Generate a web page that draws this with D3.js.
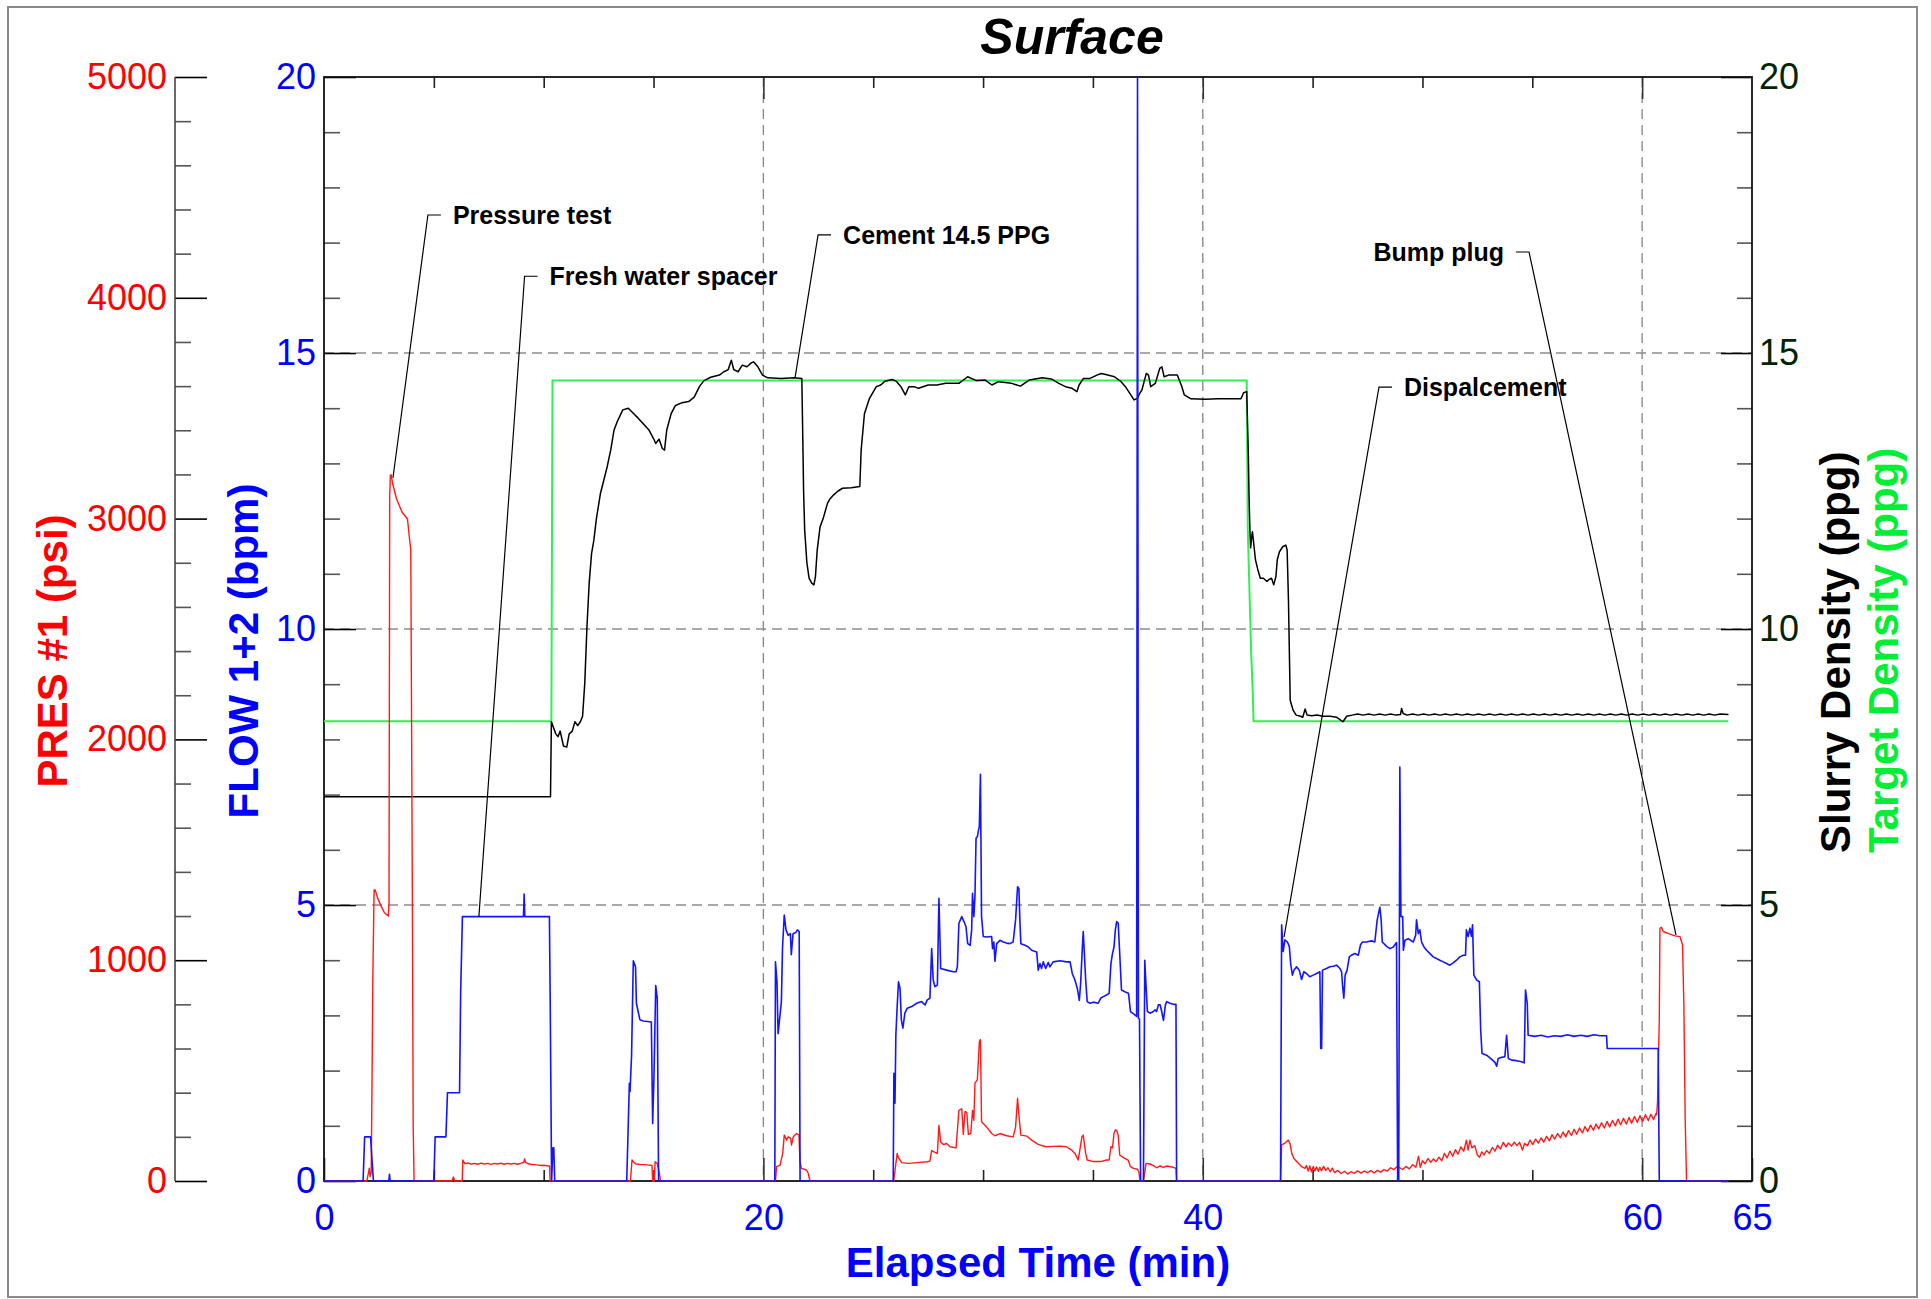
<!DOCTYPE html>
<html><head><meta charset="utf-8">
<script src="https://cdn.jsdelivr.net/npm/d3@7"></script>
<style>
html,body{margin:0;padding:0;background:#fff;}
svg{display:block;font-family:"Liberation Sans",Arial,Helvetica,sans-serif;}
</style></head><body>
<svg id="chart" width="1931" height="1299"></svg>
<script>
// ---------------- data (time in min) ----------------
const timeTicks = [0, 20, 40, 60, 65];
const timeMinorTicks = [5, 10, 15, 25, 30, 35, 45, 50, 55];
const presTicks = [0, 1000, 2000, 3000, 4000, 5000];
const flowTicks = [0, 5, 10, 15, 20];
const densTicks = [0, 5, 10, 15, 20];
const gridTimes = [20, 40, 60];
const gridLevels = [5, 10, 15];

// FLOW 1+2 (bpm)
const flowData = [
[0,0],[1.78,0],[1.85,0.8],[2.12,0.8],[2.2,0.3],[2.25,0],[2.95,0],[2.98,0.12],[3.01,0],
[5.0,0],[5.06,0.8],[5.55,0.8],[5.62,1.6],[6.17,1.6],[6.22,3.4],[6.3,4.79],[9.08,4.79],[9.11,5.2],[9.14,4.79],
[10.26,4.79],[10.3,3.1],[10.36,0],[10.42,0.6],[10.46,0.6],[10.5,0],
[13.78,0],[13.9,1.77],[13.93,1.62],[14.0,2.28],[14.08,3.99],[14.18,3.88],[14.22,3.22],[14.38,2.92],[14.53,2.9],
[14.9,2.88],[14.96,1.04],[15.02,1.9],[15.1,3.54],[15.17,3.31],[15.23,0],
[20.52,0],[20.55,3.97],[20.62,3.6],[20.67,2.67],[20.75,2.98],[20.82,3.25],[20.87,4.22],[20.95,4.82],[21.03,4.55],
[21.13,4.45],[21.23,4.48],[21.27,4.1],[21.35,4.48],[21.47,4.5],[21.55,4.55],[21.63,4.52],[21.67,0],
[25.91,0],[25.94,1.95],[25.99,1.41],[26.03,2.65],[26.09,3.16],[26.15,3.61],[26.22,3.49],[26.28,2.92],[26.35,2.77],
[26.44,3.04],[26.55,3.13],[26.75,3.16],[26.98,3.22],[27.2,3.25],[27.36,3.19],[27.46,3.28],[27.58,3.31],[27.66,4.21],
[27.73,3.64],[27.81,3.52],[27.92,3.55],[27.99,5.12],[28.07,3.85],[28.34,3.82],[28.65,3.79],[28.77,3.79],[28.83,3.88],
[28.9,4.67],[29.03,4.79],[29.13,4.7],[29.22,4.61],[29.3,4.3],[29.41,4.27],[29.48,4.55],[29.52,5.21],[29.58,4.79],
[29.63,5.15],[29.68,6.21],[29.74,6.24],[29.78,6.33],[29.83,6.42],[29.88,7.37],[29.93,4.79],[30.01,4.43],[30.16,4.42],
[30.39,4.43],[30.43,4.21],[30.49,4.33],[30.54,3.98],[30.62,4.3],[30.77,4.36],[30.92,4.33],[31.07,4.31],[31.22,4.3],
[31.37,4.33],[31.48,4.73],[31.57,5.33],[31.63,5.3],[31.68,4.67],[31.72,4.3],[31.91,4.27],[32.06,4.24],[32.21,4.18],
[32.44,4.15],[32.51,3.82],[32.59,3.94],[32.66,3.85],[32.74,3.97],[32.85,3.85],[32.97,3.96],[33.04,3.88],[33.19,3.97],
[33.5,3.99],[33.8,3.97],[33.96,3.97],[34.06,3.76],[34.18,3.64],[34.29,3.49],[34.38,3.27],[34.44,3.57],[34.52,4.24],
[34.56,4.52],[34.61,4.12],[34.67,3.64],[34.74,3.25],[34.87,3.22],[35.02,3.24],[35.24,3.22],[35.35,3.31],[35.47,3.34],
[35.62,3.37],[35.74,3.40],[35.82,3.94],[35.89,4.12],[35.96,4.24],[36.02,4.55],[36.08,4.70],[36.15,4.67],[36.22,4.12],
[36.3,3.46],[36.45,3.43],[36.62,3.40],[36.71,3.07],[36.8,3.04],[36.91,3.01],[36.99,2.98],[37.03,20],[37.07,2.95],
[37.12,2.93],[37.17,0],[37.3,0],[37.36,4.0],[37.42,3.52],[37.48,3.07],[37.6,3.04],[37.75,3.07],[37.83,3.1],[37.9,3.07],
[37.98,3.19],[38.06,3.19],[38.13,3.07],[38.21,2.91],[38.3,3.19],[38.36,3.25],[38.51,3.22],[38.66,3.2],[38.78,3.2],[38.81,0],
[43.54,0],[43.59,4.64],[43.66,4.16],[43.74,4.37],[43.85,4.33],[43.94,4.25],[44.0,3.94],[44.08,3.73],[44.15,3.82],
[44.27,3.88],[44.39,3.82],[44.5,3.65],[44.6,3.79],[44.72,3.76],[44.87,3.7],[45.03,3.73],[45.18,3.76],[45.33,3.79],
[45.37,2.40],[45.41,2.40],[45.45,3.82],[45.63,3.85],[45.79,3.88],[45.94,3.89],[46.09,3.91],[46.17,3.88],[46.24,3.85],
[46.32,3.79],[46.36,3.55],[46.42,3.31],[46.48,3.73],[46.57,3.82],[46.67,4.06],[46.77,4.09],[46.92,4.12],[47.08,4.09],
[47.18,4.28],[47.27,4.33],[47.45,4.33],[47.68,4.35],[47.83,4.33],[47.94,4.73],[48.06,4.96],[48.12,4.73],[48.17,4.33],
[48.37,4.25],[48.52,4.21],[48.67,4.24],[48.82,4.32],[48.87,0],[48.92,0],[48.97,7.5],[49.02,4.79],[49.1,4.79],
[49.13,4.18],[49.2,4.36],[49.35,4.39],[49.58,4.33],[49.69,4.45],[49.73,4.73],[49.81,4.48],[49.88,4.55],[49.96,4.33],
[50.07,4.24],[50.19,4.18],[50.34,4.12],[50.49,4.06],[50.64,4.03],[50.79,4.0],[50.95,3.97],[51.1,3.94],[51.25,3.91],
[51.4,3.95],[51.55,4.0],[51.7,4.06],[51.86,4.09],[51.96,4.09],[52.0,4.55],[52.08,4.43],[52.16,4.58],[52.23,4.43],
[52.28,4.64],[52.34,3.73],[52.47,3.64],[52.59,3.61],[52.65,2.74],[52.71,2.31],[52.92,2.28],[53.19,2.19],[53.3,2.15],
[53.38,2.08],[53.45,2.22],[53.6,2.24],[53.75,2.25],[53.83,2.64],[53.91,2.22],[54.06,2.19],[54.28,2.18],[54.51,2.16],
[54.63,2.14],[54.69,3.46],[54.77,3.22],[54.81,2.64],[55.1,2.62],[55.4,2.64],[55.7,2.61],[56.0,2.63],[56.3,2.62],
[56.6,2.65],[56.9,2.62],[57.2,2.64],[57.5,2.62],[57.8,2.65],[58.1,2.63],[58.38,2.63],[58.41,2.40],[60.73,2.40],
[60.78,0],[63.92,0]
];

// PRES #1 (psi)
const presData = [
[0,0],[1.95,0],[2.03,40],[2.06,58],[2.1,20],[2.15,40],[2.19,500],[2.22,900],[2.28,1318],[2.33,1318],[2.45,1280],
[2.6,1245],[2.75,1215],[2.93,1200],[2.96,1260],[2.99,3100],[3.02,3198],[3.06,3198],[3.12,3160],[3.3,3090],[3.55,3030],
[3.8,2998],[3.88,2920],[3.95,2860],[3.99,2000],[4.02,1340],[4.06,245],[4.1,0],
[5.82,0],[5.89,18],[5.95,0],[6.29,0],[6.32,95],[6.42,78],[6.55,82],[6.7,76],[6.85,80],[7.0,76],[7.15,81],[7.3,77],
[7.45,80],[7.6,75],[7.75,80],[7.9,77],[8.05,81],[8.2,76],[8.35,80],[8.5,77],[8.65,80],[8.8,76],[8.95,80],[9.1,85],
[9.13,100],[9.18,84],[9.3,78],[9.45,75],[9.6,74],[9.75,72],[9.9,70],[10.05,71],[10.2,68],[10.27,68],[10.29,0],
[13.95,0],[14.02,95],[14.1,85],[14.2,77],[14.4,75],[14.6,74],[14.8,72],[14.93,70],[14.96,0],[15.04,0],[15.07,87],
[15.17,80],[15.26,38],[15.32,0],
[20.55,0],[20.6,65],[20.76,72],[20.88,125],[20.95,208],[21.06,185],[21.13,200],[21.24,193],[21.28,163],[21.36,200],
[21.51,215],[21.62,208],[21.66,95],[21.73,57],[21.96,50],[22.04,35],[22.12,0],
[25.93,0],[26.09,125],[26.15,105],[26.3,83],[26.6,80],[27.0,83],[27.45,87],[27.58,90],[27.66,138],[27.81,130],
[27.92,125],[27.99,252],[28.07,177],[28.19,165],[28.34,170],[28.5,155],[28.77,150],[28.9,320],[29.03,327],[29.1,211],
[29.18,315],[29.26,310],[29.33,211],[29.44,215],[29.52,320],[29.58,275],[29.63,443],[29.74,458],[29.83,631],[29.88,640],
[29.93,268],[30.16,245],[30.39,215],[30.54,205],[30.77,215],[31.07,205],[31.37,200],[31.48,245],[31.57,375],[31.63,300],
[31.72,208],[32.0,203],[32.21,185],[32.51,166],[32.85,155],[33.2,157],[33.5,158],[33.8,155],[34.03,140],[34.18,125],
[34.33,95],[34.38,125],[34.5,200],[34.56,208],[34.67,125],[34.74,95],[35.02,88],[35.35,88],[35.62,95],[35.74,95],
[35.82,155],[35.89,150],[35.96,215],[36.02,231],[36.08,230],[36.15,208],[36.22,118],[36.37,107],[36.6,95],[36.71,65],
[36.85,57],[37.03,53],[37.09,42],[37.15,0],[37.3,0],[37.42,80],[37.6,77],[37.75,70],[37.9,60],[38.06,68],[38.21,62],
[38.36,68],[38.66,62],[38.78,57],[38.81,0],
[43.54,0],[43.59,164],[43.74,172],[43.89,185],[43.97,170],[44.05,125],[44.15,102],[44.35,80],[44.5,65],[44.65,57],
[44.72,70],[44.8,45],[44.87,68],[44.95,42],[45.03,66],[45.1,45],[45.18,64],[45.26,44],[45.33,62],[45.4,46],[45.5,66],
[45.6,48],[45.7,60],[45.8,42],[45.9,58],[46.0,38],[46.15,48],[46.3,34],[46.45,44],[46.6,32],[46.75,42],[46.9,35],
[47.05,46],[47.2,36],[47.35,45],[47.5,38],[47.65,47],[47.8,37],[47.95,48],[48.1,40],[48.25,52],[48.4,45],[48.55,60],
[48.7,52],[48.85,66],[48.97,60],[49.1,52],[49.25,66],[49.4,55],[49.55,74],[49.7,62],[49.82,112],[49.9,62],[50.0,92],
[50.12,78],[50.25,102],[50.38,85],[50.5,100],[50.62,88],[50.75,108],[50.88,92],[51.0,125],[51.12,105],[51.25,135],
[51.38,112],[51.5,142],[51.62,122],[51.75,155],[51.88,135],[52.0,185],[52.08,140],[52.16,185],[52.25,150],[52.38,160],
[52.5,118],[52.6,108],[52.7,132],[52.8,118],[52.92,138],[53.05,125],[53.18,152],[53.3,135],[53.42,162],[53.55,145],
[53.68,175],[53.8,155],[53.92,172],[54.05,158],[54.18,176],[54.3,160],[54.42,175],[54.55,140],[54.65,170],[54.78,160],
[54.9,185],[55.02,165],[55.15,190],[55.28,172],[55.4,195],[55.52,176],[55.65,202],[55.78,182],[55.9,210],[56.02,190],
[56.15,215],[56.28,196],[56.4,222],[56.52,200],[56.65,228],[56.78,206],[56.9,234],[57.02,212],[57.15,240],[57.28,218],
[57.4,247],[57.52,224],[57.65,253],[57.78,230],[57.9,258],[58.02,236],[58.15,264],[58.28,240],[58.4,270],[58.52,245],
[58.65,274],[58.78,250],[58.9,280],[59.02,255],[59.15,284],[59.28,258],[59.4,288],[59.52,262],[59.65,292],[59.78,266],
[59.9,296],[60.02,270],[60.15,300],[60.28,274],[60.4,302],[60.52,278],[60.62,305],[60.66,300],
[60.7,360],[60.74,548],[60.78,729],[60.81,1144],[60.88,1149],
[60.96,1130],[61.2,1120],[61.5,1110],[61.72,1107],[61.84,1069],[61.9,790],[61.96,276],[62.02,0],[63.92,0]
];

// Slurry Density (ppg)
const densData = [
[0,6.96],[10.31,6.96],[10.35,8.32],[10.55,8.1],[10.65,8.05],[10.75,8.15],[10.9,7.88],[11.05,7.86],[11.16,8.1],
[11.3,8.15],[11.42,8.32],[11.55,8.25],[11.67,8.32],[11.77,8.42],[11.87,9.02],[11.97,10.04],[12.07,10.83],[12.18,11.37],
[12.28,11.6],[12.4,12.0],[12.58,12.45],[12.89,12.94],[13.05,13.24],[13.2,13.6],[13.35,13.76],[13.6,13.97],[13.85,14.0],
[14.1,13.9],[14.3,13.82],[14.5,13.73],[14.8,13.6],[15.0,13.45],[15.1,13.36],[15.25,13.44],[15.4,13.27],[15.5,13.24],
[15.6,13.6],[15.8,13.9],[16.0,14.05],[16.3,14.1],[16.6,14.12],[16.85,14.2],[17.1,14.4],[17.3,14.5],[17.6,14.56],
[18.0,14.6],[18.2,14.66],[18.4,14.7],[18.54,14.87],[18.65,14.7],[18.85,14.66],[19.04,14.78],[19.25,14.75],[19.45,14.82],
[19.55,14.84],[19.75,14.75],[19.96,14.6],[20.2,14.55],[20.8,14.54],[21.4,14.55],[21.75,14.54],[21.8,13.3],[21.83,12.5],
[21.88,11.79],[21.98,11.2],[22.08,10.92],[22.2,10.83],[22.3,10.8],[22.37,10.95],[22.45,11.43],[22.58,11.85],[22.72,12.0],
[22.92,12.28],[23.02,12.35],[23.2,12.43],[23.4,12.5],[23.6,12.55],[24.0,12.56],[24.39,12.58],[24.45,13.24],[24.6,13.9],
[24.83,14.18],[25.14,14.39],[25.34,14.42],[25.54,14.49],[25.85,14.52],[26.05,14.49],[26.26,14.39],[26.46,14.24],
[26.62,14.39],[26.86,14.39],[27.06,14.36],[27.5,14.42],[27.9,14.42],[28.3,14.45],[28.9,14.45],[29.3,14.57],[29.7,14.5],
[30.1,14.51],[30.4,14.42],[30.7,14.48],[31.3,14.45],[31.7,14.4],[32.1,14.51],[32.7,14.55],[33.1,14.53],[33.45,14.45],
[33.75,14.39],[34.05,14.36],[34.27,14.3],[34.37,14.42],[34.57,14.54],[34.87,14.54],[35.18,14.6],[35.38,14.63],
[35.68,14.6],[35.98,14.57],[36.28,14.48],[36.48,14.39],[36.68,14.27],[36.87,14.15],[37.03,14.18],[37.13,14.27],
[37.23,14.33],[37.43,14.63],[37.53,14.6],[37.63,14.39],[37.84,14.45],[38.04,14.72],[38.14,14.75],[38.24,14.57],
[38.44,14.6],[38.84,14.6],[39.05,14.39],[39.16,14.24],[39.46,14.17],[40.1,14.16],[40.7,14.17],[41.3,14.17],[41.74,14.17],
[41.86,14.28],[42.0,14.3],[42.07,13.24],[42.11,12.34],[42.15,11.74],[42.18,11.47],[42.22,11.65],[42.26,11.76],
[42.3,11.62],[42.4,11.25],[42.51,11.07],[42.62,10.92],[42.76,10.92],[42.92,10.86],[43.02,10.9],[43.13,10.92],
[43.23,10.8],[43.33,10.95],[43.39,11.25],[43.49,11.4],[43.64,11.49],[43.78,11.52],[43.84,11.43],[43.9,10.53],
[43.94,9.62],[43.98,8.71],[44.11,8.53],[44.25,8.44],[44.45,8.42],[44.55,8.4],[44.66,8.55],[44.75,8.44],[44.96,8.43],
[45.2,8.44],[45.47,8.42],[45.8,8.42],[46.1,8.4],[46.38,8.32],[46.55,8.42],[46.8,8.44],[47.05,8.46],[47.3,8.44],
[47.55,8.46],[47.8,8.44],[48.05,8.46],[48.3,8.44],[48.55,8.46],[48.8,8.44],[49.0,8.45],[49.05,8.56],[49.12,8.47],
[49.3,8.44],[49.55,8.46],[49.8,8.44],[50.05,8.46],[50.3,8.44],[50.55,8.46],[50.8,8.44],[51.05,8.46],[51.3,8.44],
[51.55,8.46],[51.8,8.44],[52.05,8.46],[52.3,8.44],[52.55,8.46],[52.8,8.44],[53.05,8.46],[53.3,8.44],[53.55,8.46],
[53.8,8.44],[54.05,8.46],[54.3,8.44],[54.55,8.46],[54.8,8.44],[55.05,8.46],[55.3,8.44],[55.55,8.46],[55.8,8.44],
[56.05,8.46],[56.3,8.44],[56.55,8.46],[56.8,8.44],[57.05,8.46],[57.3,8.44],[57.55,8.46],[57.8,8.44],[58.05,8.46],
[58.3,8.44],[58.55,8.46],[58.8,8.44],[59.05,8.46],[59.3,8.44],[59.55,8.46],[59.8,8.44],[60.05,8.46],[60.3,8.44],
[60.55,8.46],[60.8,8.44],[61.05,8.46],[61.3,8.44],[61.55,8.46],[61.8,8.44],[62.05,8.46],[62.3,8.44],[62.55,8.46],
[62.8,8.44],[63.05,8.46],[63.3,8.44],[63.55,8.46],[63.93,8.45]
];

// Target Density (ppg)
const targetData = [
[0,8.33],[10.35,8.33],[10.4,14.5],[42.0,14.5],[42.05,11.8],[42.2,9.6],[42.28,8.8],[42.31,8.33],[63.92,8.33]
];

// callouts: text, pointed value (time, value, series axis), elbow (time, level on 0-20 scale)
const calloutLabels = ["Pressure test", "Fresh water spacer", "Cement 14.5 PPG", "Dispalcement", "Bump plug"];
const calloutPoint = [[3.14, 3185, "pres"], [7.05, 4.79, "flow"], [21.44, 14.55, "dens"], [43.7, 4.42, "flow"], [61.54, 1115, "pres"]];
const calloutElbow = [[4.73, 17.5], [9.13, 16.39], [22.49, 17.14], [48.02, 14.38], [54.85, 16.83]];
const calloutSide = ["right", "right", "right", "right", "left"];

// ---------------- drawing ----------------
const svg = d3.select("#chart");
const L = 324, R = 1752, T = 77, B = 1181, PX = 175;
const FONT = '"Liberation Sans", Arial, Helvetica, sans-serif';
const RED = "#ff0000", BLUE = "#0000ff", GREEN = "#00ee33", DKG = "#002400";

const x = d3.scaleLinear().domain([0, 65]).range([L, R]);
const yFlow = d3.scaleLinear().domain([0, 20]).range([B, T]);
const yPres = d3.scaleLinear().domain([0, 5000]).range([B, T]);
const yDens = d3.scaleLinear().domain([0, 20]).range([B, T]);
const scales = {flow: yFlow, pres: yPres, dens: yDens};

svg.append("rect").attr("width", 1931).attr("height", 1299).attr("fill", "#fff");
svg.append("rect").attr("x", 8).attr("y", 7).attr("width", 1909).attr("height", 1290)
  .attr("fill", "none").attr("stroke", "#8a8a8a").attr("stroke-width", 2);

// title
svg.append("text").attr("x", 1072).attr("y", 54).attr("text-anchor", "middle")
  .attr("font-family", FONT).attr("font-size", 50).attr("font-weight", "bold").attr("font-style", "italic")
  .attr("fill", "#000").text("Surface");

// gridlines
const grid = svg.append("g").attr("stroke", "#8c8c8c").attr("stroke-width", 1.4).attr("stroke-dasharray", "10,6");
grid.selectAll("line.v").data(gridTimes).join("line").attr("class", "v")
  .attr("x1", d => x(d)).attr("x2", d => x(d)).attr("y1", T).attr("y2", B);
grid.selectAll("line.h").data(gridLevels).join("line").attr("class", "h")
  .attr("x1", L).attr("x2", R).attr("y1", d => yFlow(d)).attr("y2", d => yFlow(d));

function styleAxis(g, color, size) {
  g.attr("font-family", FONT).attr("font-size", size);
  g.selectAll("text").attr("fill", color);
  g.select(".domain").remove();
}

// PRES axis
const presMinor = d3.range(0, 5001, 200).filter(v => v % 1000 !== 0);
svg.append("g").attr("transform", `translate(${PX},0)`)
  .call(d3.axisLeft(yPres).tickValues(presMinor).tickSizeInner(-16).tickSizeOuter(0).tickFormat(""))
  .call(g => { g.select(".domain").remove(); g.selectAll("line").attr("stroke", "#555").attr("stroke-width", 1.6); });
svg.append("g").attr("transform", `translate(${PX},0)`)
  .call(d3.axisLeft(yPres).tickValues(presTicks).tickSizeInner(-32).tickSizeOuter(0).tickPadding(8).tickFormat(d3.format("d")))
  .call(g => { styleAxis(g, RED, 36); g.selectAll("line").attr("stroke", "#000").attr("stroke-width", 1.6); });
svg.append("line").attr("x1", PX).attr("x2", PX).attr("y1", T).attr("y2", B).attr("stroke", "#444").attr("stroke-width", 1.6);

// FLOW axis (left of plot)
const unitMinor = d3.range(0, 21, 1).filter(v => v % 5 !== 0);
svg.append("g").attr("transform", `translate(${L},0)`)
  .call(d3.axisLeft(yFlow).tickValues(unitMinor).tickSizeInner(-16).tickSizeOuter(0).tickFormat(""))
  .call(g => { g.select(".domain").remove(); g.selectAll("line").attr("stroke", "#555").attr("stroke-width", 1.6); });
svg.append("g").attr("transform", `translate(${L},0)`)
  .call(d3.axisLeft(yFlow).tickValues(flowTicks).tickSizeInner(-32).tickSizeOuter(0).tickPadding(8))
  .call(g => { styleAxis(g, BLUE, 36); g.selectAll("line").attr("stroke", "#000").attr("stroke-width", 1.6); });

// Density axis (right)
svg.append("g").attr("transform", `translate(${R},0)`)
  .call(d3.axisRight(yDens).tickValues(unitMinor).tickSizeInner(-15).tickSizeOuter(0).tickFormat(""))
  .call(g => { g.select(".domain").remove(); g.selectAll("line").attr("stroke", "#555").attr("stroke-width", 1.6); });
svg.append("g").attr("transform", `translate(${R},0)`)
  .call(d3.axisRight(yDens).tickValues(densTicks).tickSizeInner(-31).tickSizeOuter(0).tickPadding(7))
  .call(g => { styleAxis(g, DKG, 36); g.selectAll("line").attr("stroke", "#000").attr("stroke-width", 1.6); });

// time axes (bottom with labels, top ticks only)
svg.append("g").attr("transform", `translate(0,${B})`)
  .call(d3.axisBottom(x).tickValues(timeMinorTicks).tickSizeInner(-11).tickSizeOuter(0).tickFormat(""))
  .call(g => { g.select(".domain").remove(); g.selectAll("line").attr("stroke", "#222").attr("stroke-width", 1.6); });
svg.append("g").attr("transform", `translate(0,${B})`)
  .call(d3.axisBottom(x).tickValues(timeTicks).tickSizeInner(-23).tickSizeOuter(0).tickPadding(23))
  .call(g => { styleAxis(g, BLUE, 36); g.selectAll("line").attr("stroke", "#333").attr("stroke-width", 1.6); });
svg.append("g").attr("transform", `translate(0,${T})`)
  .call(d3.axisTop(x).tickValues(timeMinorTicks).tickSizeInner(-11).tickSizeOuter(0).tickFormat(""))
  .call(g => { g.select(".domain").remove(); g.selectAll("line").attr("stroke", "#222").attr("stroke-width", 1.6); });
svg.append("g").attr("transform", `translate(0,${T})`)
  .call(d3.axisTop(x).tickValues(gridTimes).tickSizeInner(-22).tickSizeOuter(0).tickFormat(""))
  .call(g => { g.select(".domain").remove(); g.selectAll("line").attr("stroke", "#333").attr("stroke-width", 1.6); });

// plot frame
svg.append("rect").attr("x", L).attr("y", T).attr("width", R - L).attr("height", B - T)
  .attr("fill", "none").attr("stroke", "#111").attr("stroke-width", 1.8);

// series
const lineOf = ys => d3.line().x(d => x(d[0])).y(d => ys(d[1]));
svg.append("path").datum(targetData).attr("d", lineOf(yDens))
  .attr("fill", "none").attr("stroke", "#33ee55").attr("stroke-width", 2);
svg.append("path").datum(densData).attr("d", lineOf(yDens))
  .attr("fill", "none").attr("stroke", "#000").attr("stroke-width", 1.5).attr("stroke-linejoin", "round");
svg.append("path").datum(presData).attr("d", lineOf(yPres))
  .attr("fill", "none").attr("stroke", "#ff1a1a").attr("stroke-width", 1.4).attr("stroke-linejoin", "round");
svg.append("path").datum(flowData).attr("d", lineOf(yFlow))
  .attr("fill", "none").attr("stroke", "#1414ff").attr("stroke-width", 1.6).attr("stroke-linejoin", "round");

// callouts
const ann = svg.append("g");
calloutLabels.forEach((label, i) => {
  const [pt, pv, axis] = calloutPoint[i];
  const px = x(pt), py = scales[axis](pv);
  const cx = x(calloutElbow[i][0]), cy = yFlow(calloutElbow[i][1]);
  const dir = calloutSide[i] === "right" ? 1 : -1;
  ann.append("path").attr("d", `M${px},${py}L${cx},${cy}L${cx + dir * 13},${cy}`)
    .attr("fill", "none").attr("stroke", "#000").attr("stroke-width", 1.2);
  ann.append("text").attr("x", cx + dir * 25).attr("y", cy).attr("dy", "0.35em")
    .attr("text-anchor", dir > 0 ? "start" : "end")
    .attr("font-family", FONT).attr("font-size", 25).attr("font-weight", "bold").attr("fill", "#000").text(label);
});

// axis titles
const titles = svg.append("g").attr("font-family", FONT).attr("font-weight", "bold").attr("font-size", 42);
titles.append("text").attr("transform", "translate(67,651) rotate(-90)").attr("text-anchor", "middle")
  .attr("fill", RED).text("PRES #1 (psi)");
titles.append("text").attr("transform", "translate(258,651) rotate(-90)").attr("text-anchor", "middle")
  .attr("fill", BLUE).text("FLOW 1+2 (bpm)");
titles.append("text").attr("transform", "translate(1850,853) rotate(-90)").attr("text-anchor", "start")
  .attr("fill", "#000").text("Slurry Density (ppg)");
titles.append("text").attr("transform", "translate(1898,853) rotate(-90)").attr("text-anchor", "start")
  .attr("fill", GREEN).text("Target Density (ppg)");
titles.append("text").attr("x", (L + R) / 2).attr("y", 1277).attr("text-anchor", "middle")
  .attr("fill", BLUE).text("Elapsed Time (min)");
</script></body></html>
